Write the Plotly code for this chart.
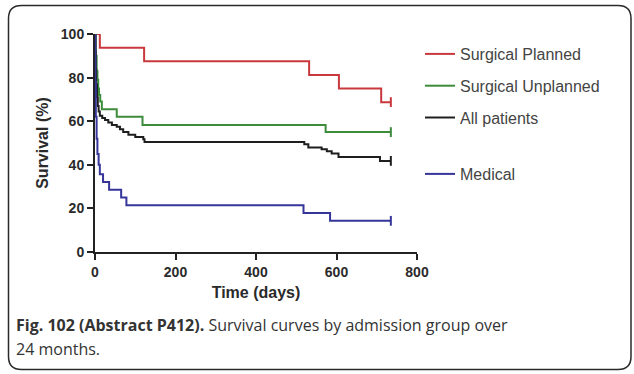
import plotly.graph_objects as go

# Kaplan-Meier style step data (days, survival %)
planned_t = [0, 12, 122, 532, 606, 711, 735]
planned_s = [100, 93.75, 87.5, 81.25, 75, 68.75, 68.75]

unplanned_t = [0, 2, 4, 6, 8, 10, 13, 17, 54, 118, 573, 735]
unplanned_s = [100, 90, 83, 79, 75, 72, 69, 65.5, 62, 58.3, 55, 55]

all_t = [0, 1, 2, 3, 5, 7, 9, 12, 18, 25, 33, 42, 54, 62, 70, 83, 100, 120, 123,
         520, 530, 563, 576, 588, 605, 708, 735]
all_s = [100, 92, 84, 77, 71, 67, 64.5, 62.5, 61.5, 60.5, 59.4, 58.3, 57.4, 56.3, 55.1,
         53.8, 52.8, 51.7, 50.5, 49.4, 47.9, 47.1, 46.2, 45.2, 43.6, 41.8, 41.8]

medical_t = [0, 1, 2, 4, 6, 9, 12, 20, 35, 65, 78, 518, 584, 735]
medical_s = [100, 78, 62, 52, 45, 40, 35.7, 32.1, 28.6, 25, 21.4, 17.9, 14.3, 14.3]

series = [
    ("Surgical Planned", planned_t, planned_s, "#c8383c", "legend"),
    ("Surgical Unplanned", unplanned_t, unplanned_s, "#3c8c3c", "legend"),
    ("All patients", all_t, all_s, "#1e1e1e", "legend"),
    ("Medical", medical_t, medical_s, "#35359a", "legend2"),
]

W, H = 634, 374
L, R, T, B = 95, 217, 34, 122
pw, ph = W - L - R, H - T - B


def px(x):
    return (x - L) / pw


def py(y):
    return (H - B - y) / ph


FONT = "Liberation Sans"

fig = go.Figure()
for name, t, s, col, leg in series:
    fig.add_trace(go.Scatter(x=t, y=s, name=name, mode="lines", line_shape="hv",
                             line=dict(color=col, width=2), legend=leg, legendgroup=name))
    # censor tick at the end of each curve
    fig.add_trace(go.Scatter(x=t[-1:], y=s[-1:], mode="markers", showlegend=False,
                             legendgroup=name, hoverinfo="skip",
                             marker=dict(symbol="line-ns", size=7,
                                         line=dict(color=col, width=2))))

# rounded frame around the whole figure
x0, y0, x1, y1, r = 8.5, 5.5, 631, 369.5, 13
pts = [("M", x0 + r, y0), ("L", x1 - r, y0), ("Q", x1, y0, x1, y0 + r), ("L", x1, y1 - r),
       ("Q", x1, y1, x1 - r, y1), ("L", x0 + r, y1), ("Q", x0, y1, x0, y1 - r),
       ("L", x0, y0 + r), ("Q", x0, y0, x0 + r, y0)]
path = ""
for p in pts:
    cmd = p[0]
    coords = p[1:]
    path += cmd + " " + " ".join(
        f"{px(coords[i]):.5f},{py(coords[i + 1]):.5f}" for i in range(0, len(coords), 2)) + " "
path += "Z"
fig.add_shape(type="path", path=path, xref="paper", yref="paper",
              line=dict(color="#2a2a2a", width=1.5))

cap_font = dict(family="Open Sans", size=16, color="#333")
fig.add_annotation(x=px(14), y=py(325), xref="paper", yref="paper", xanchor="left",
                   yanchor="middle", showarrow=False, font=cap_font,
                   text="<b>Fig. 102 (Abstract P412).</b> Survival curves by admission group over")
fig.add_annotation(x=px(14), y=py(349), xref="paper", yref="paper", xanchor="left",
                   yanchor="middle", showarrow=False, font=cap_font, text="24 months.")

axis_font = dict(family=FONT, size=14, color="#2a2a2a", weight="bold")
title_font = dict(family=FONT, size=16, color="#2a2a2a", weight="bold")
fig.update_xaxes(range=[0, 800], tickvals=[0, 200, 400, 600, 800], showgrid=False,
                 zeroline=False, showline=True, linecolor="#222", linewidth=2,
                 ticks="outside", ticklen=6, tickwidth=2, tickcolor="#222",
                 tickfont=axis_font,
                 title=dict(text="Time (days)", font=title_font, standoff=8))
fig.update_yaxes(range=[0, 100], tickvals=[0, 20, 40, 60, 80, 100], showgrid=False,
                 zeroline=False, showline=True, linecolor="#222", linewidth=2,
                 ticks="outside", ticklen=6, tickwidth=2, tickcolor="#222",
                 tickfont=axis_font,
                 title=dict(text="Survival (%)", font=title_font, standoff=8))

leg_font = dict(family=FONT, size=16, color="#444")
fig.update_layout(
    width=W, height=H, margin=dict(l=L, r=R, t=T, b=B),
    paper_bgcolor="white", plot_bgcolor="white",
    legend=dict(x=px(420), y=py(37), xanchor="left", yanchor="top", tracegroupgap=8,
                font=leg_font, itemwidth=30, bgcolor="rgba(0,0,0,0)"),
    legend2=dict(x=px(420), y=py(157), xanchor="left", yanchor="top",
                 font=leg_font, itemwidth=30, bgcolor="rgba(0,0,0,0)"),
    showlegend=True,
)

fig.write_html("out.html", config={"displayModeBar": False},
               post_script="document.body.style.margin='0';")
